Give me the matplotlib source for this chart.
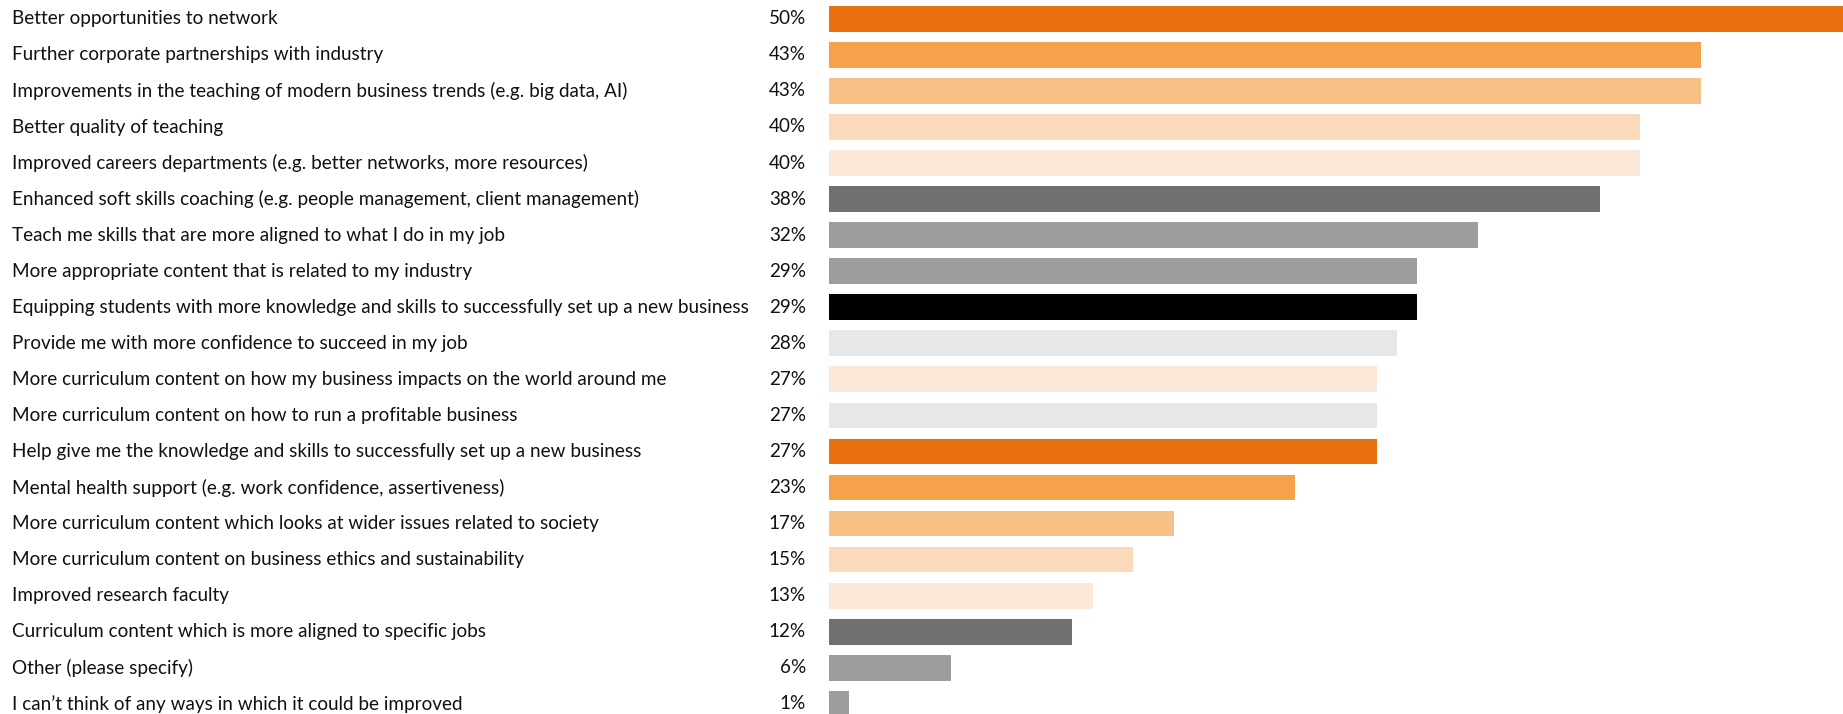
import matplotlib
matplotlib.use("Agg")
import matplotlib.pyplot as plt
from matplotlib.transforms import blended_transform_factory

categories = [
    "Better opportunities to network",
    "Further corporate partnerships with industry",
    "Improvements in the teaching of modern business trends (e.g. big data, AI)",
    "Better quality of teaching",
    "Improved careers departments (e.g. better networks, more resources)",
    "Enhanced soft skills coaching (e.g. people management, client management)",
    "Teach me skills that are more aligned to what I do in my job",
    "More appropriate content that is related to my industry",
    "Equipping students with more knowledge and skills to successfully set up a new business",
    "Provide me with more confidence to succeed in my job",
    "More curriculum content on how my business impacts on the world around me",
    "More curriculum content on how to run a profitable business",
    "Help give me the knowledge and skills to successfully set up a new business",
    "Mental health support (e.g. work confidence, assertiveness)",
    "More curriculum content which looks at wider issues related to society",
    "More curriculum content on business ethics and sustainability",
    "Improved research faculty",
    "Curriculum content which is more aligned to specific jobs",
    "Other (please specify)",
    "I can\u2019t think of any ways in which it could be improved",
]
values = [50, 43, 43, 40, 40, 38, 32, 29, 29, 28, 27, 27, 27, 23, 17, 15, 13, 12, 6, 1]
colors = [
    "#E8700F", "#F5A24B", "#F7C084", "#FADABB", "#FBE8D8",
    "#707070", "#9D9D9C", "#9D9D9C", "#000000", "#E7E7E7",
    "#FBE8D8", "#E7E7E7", "#E8700F", "#F5A24B", "#F7C084",
    "#FADABB", "#FBE8D8", "#707070", "#9D9D9C", "#9D9D9C",
]

W, H = 1843, 714
fig = plt.figure(figsize=(W / 100, H / 100), dpi=100)
fig.patch.set_facecolor("white")

n = len(values)
top_px, step_px = 18.85, 36.05
ax_top = top_px - step_px / 2
ax_h = step_px * n
ax = fig.add_axes([829 / W, 1 - (ax_top + ax_h) / H, 1 - 829 / W, ax_h / H])

ypos = list(range(n))
ax.barh(ypos, values, height=0.714, color=colors, edgecolor="none")
ax.set_xlim(0, 50)
ax.set_ylim(n - 0.5, -0.5)
ax.axis("off")

tr = blended_transform_factory(fig.transFigure, ax.transData)
font = "Lato"
for i, (cat, v) in enumerate(zip(categories, values)):
    ax.text(12 / W, i, cat, transform=tr, ha="left", va="center",
            fontsize=13.6, family=font, color="#111111", clip_on=False)
    ax.text(806 / W, i, f"{v}%", transform=tr, ha="right", va="center",
            fontsize=13.6, family=font, color="#111111", clip_on=False)

fig.savefig("out.png", dpi=100, facecolor="white")
